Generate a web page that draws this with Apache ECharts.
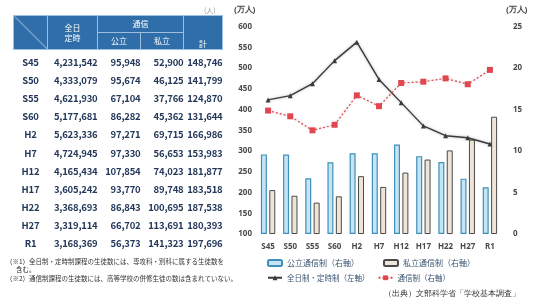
<!DOCTYPE html>
<html>
<head>
<meta charset="utf-8">
<script src="https://cdn.jsdelivr.net/npm/echarts@6/dist/echarts.min.js"></script>
<style>
html, body {
  margin: 0;
  padding: 0;
  width: 536px;
  height: 303px;
  background: #fff;
  overflow: hidden;
  font-family: "Noto Sans CJK JP", "Noto Sans", sans-serif;
}
#chart {
  position: absolute;
  left: 0;
  top: 0;
  width: 536px;
  height: 303px;
}
#table {
  position: absolute;
  left: 13px;
  top: 15px;
  border-collapse: collapse;
  table-layout: fixed;
  color: #24385a;
}
#table th {
  background: #2f6ea8;
  color: #fff;
  font-weight: normal;
  font-size: 8px;
  line-height: 10px;
  border: 1px solid #9dbfe0;
  padding: 0;
  height: 16px;
}
#table td {
  font-size: 9.5px;
  font-weight: bold;
  height: 18.1px;
  padding: 0;
  text-align: right;
  white-space: nowrap;
  letter-spacing: -0.2px;
}
#table td.lab {
  text-align: center;
}
#table tr.gap td {
  height: 3px;
}
.unit {
  position: absolute;
  left: 204px;
  top: 5px;
  font-size: 7px;
  color: #999;
}
.note {
  position: absolute;
  left: 6px;
  font-size: 6.5px;
  color: #333;
  white-space: nowrap;
}
</style>
</head>
<body>
<div id="chart"></div>
<div class="unit">(人)</div>
<table id="table"></table>
<div class="note" style="top:256px">（※1）全日制・定時制課程の生徒数には、専攻科・別科に属する生徒数を</div>
<div class="note" style="top:264px;left:16px">含む。</div>
<div class="note" style="top:273px">（※2）通信制課程の生徒数には、高等学校の併修生徒の数は含まれていない。</div>
<script>
const categories = ['S45', 'S50', 'S55', 'S60', 'H2', 'H7', 'H12', 'H17', 'H22', 'H27', 'R1']
// 生徒数（人）
const fullPart = [4231542, 4333079, 4621930, 5177681, 5623336, 4724945, 4165434, 3605242, 3368693, 3319114, 3168369]
const publicCorr = [95948, 95674, 67104, 86282, 97271, 97330, 107854, 93770, 86843, 66702, 56373]
const privateCorr = [52900, 46125, 37766, 45362, 69715, 56653, 74023, 89748, 100695, 113691, 141323]
const totalCorr = [148746, 141799, 124870, 131644, 166986, 153983, 181877, 183518, 187538, 180393, 197696]

const leftTicks = [100, 600, 50]
const rightTicks = [0, 25, 5]

const fmt = v => v.toLocaleString('en-US')
const man = v => +(v / 10000).toFixed(2)

// 表
const table = document.getElementById('table')
let html = '<colgroup><col style="width:34px"><col style="width:50px"><col style="width:43px"><col style="width:43px"><col style="width:39px"></colgroup>'
html += '<tr><th rowspan="2" style="background:linear-gradient(to top right,#2f6ea8 49%,#9dbfe0 50%,#2f6ea8 52%)"></th>' +
  '<th rowspan="2">全日<br>定時</th><th colspan="2">通信</th><th rowspan="2" style="vertical-align:bottom">計</th></tr>'
html += '<tr><th>公立</th><th>私立</th></tr>'
html += '<tr class="gap"><td colspan="5"></td></tr>'
categories.forEach((c, i) => {
  html += `<tr><td class="lab">${c}</td><td>${fmt(fullPart[i])}</td><td>${fmt(publicCorr[i])}</td>` +
    `<td>${fmt(privateCorr[i])}</td><td>${fmt(totalCorr[i])}</td></tr>`
})
table.innerHTML = html

const chart = echarts.init(document.getElementById('chart'))
const font = '"Noto Sans CJK JP", "Noto Sans", sans-serif'
const axisLabel = { color: '#4a4a4a', fontSize: 8, fontWeight: 'bold', fontFamily: 'Noto Sans' }

const option = {
  animation: false,
  textStyle: { fontFamily: font },
  grid: { left: 257, right: 35, top: 26.5, bottom: 69 },
  legend: [
    {
      left: 262, top: 254, itemWidth: 14, itemHeight: 6, itemGap: 24,
      textStyle: { fontSize: 8, color: '#3c5472' },
      data: ['公立通信制（右軸）', '私立通信制（右軸）']
    },
    {
      left: 262, top: 269, itemWidth: 14, itemHeight: 6, itemGap: 8,
      textStyle: { fontSize: 7.5, color: '#3c5472' },
      data: ['全日制・定時制（左軸）', '通信制（右軸）']
    }
  ],
  graphic: [
    { type: 'text', left: 234, top: 6, style: { text: '(万人)', fontSize: 8, fontWeight: 'bold', fill: '#444' } },
    { type: 'text', left: 506, top: 6, style: { text: '(万人)', fontSize: 8, fontWeight: 'bold', fill: '#444' } },
    { type: 'text', left: 384, top: 290, style: { text: '（出典）文部科学省「学校基本調査」', fontSize: 7.5, fill: '#333' } }
  ],
  xAxis: {
    type: 'category',
    data: categories,
    axisLine: { show: false },
    axisTick: { show: false },
    axisLabel: { ...axisLabel, margin: 9 }
  },
  yAxis: [
    {
      type: 'value', min: leftTicks[0], max: leftTicks[1], interval: leftTicks[2],
      splitLine: { show: false },
      axisLabel: { ...axisLabel, margin: 5 }
    },
    {
      type: 'value', min: rightTicks[0], max: rightTicks[1], interval: rightTicks[2],
      position: 'right',
      splitLine: { show: false },
      axisLabel: { ...axisLabel, margin: 12 }
    }
  ],
  series: [
    {
      name: '公立通信制（右軸）', type: 'bar', yAxisIndex: 1,
      barWidth: 6, barGap: '40%',
      itemStyle: { color: '#c6e5f4', borderColor: '#3f8fb8', borderWidth: 1.2 },
      data: publicCorr.map(man)
    },
    {
      name: '私立通信制（右軸）', type: 'bar', yAxisIndex: 1,
      barWidth: 6,
      itemStyle: { color: '#efe4d8', borderColor: '#4a4a4a', borderWidth: 1 },
      data: privateCorr.map(man)
    },
    {
      name: '全日制・定時制（左軸）', type: 'line', yAxisIndex: 0,
      symbol: 'triangle', symbolSize: 5,
      lineStyle: { color: '#3a3a3a', width: 1.4, shadowColor: 'rgba(0,0,0,0.3)', shadowBlur: 3 },
      itemStyle: { color: '#3a3a3a' },
      data: fullPart.map(man)
    },
    {
      name: '通信制（右軸）', type: 'line', yAxisIndex: 1,
      symbol: 'rect', symbolSize: 6,
      lineStyle: { color: '#e0474f', width: 1.2, type: [2, 2], shadowColor: 'rgba(0,0,0,0.25)', shadowBlur: 3 },
      itemStyle: { color: '#e0474f' },
      data: totalCorr.map(man)
    }
  ]
}
chart.setOption(option)
</script>
</body>
</html>
